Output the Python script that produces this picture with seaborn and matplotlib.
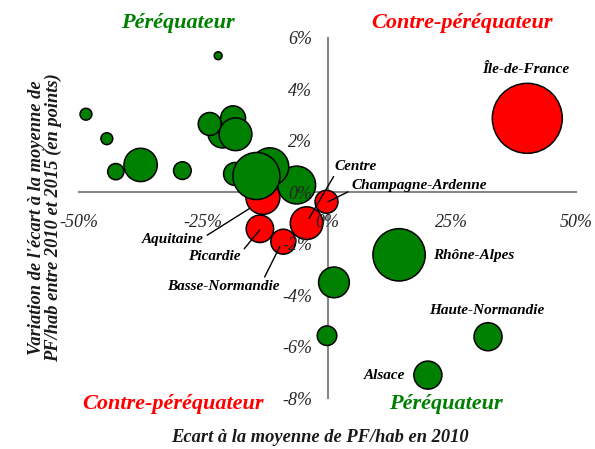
import matplotlib
matplotlib.use("Agg")
import matplotlib.pyplot as plt
import seaborn as sns
import pandas as pd
from matplotlib.ticker import FuncFormatter

# écart à la moyenne de PF/hab en 2010 (%)
ecart_2010 = [-13.0, -18.6, -6.2, -11.6, -14.3, -21.1, -19.0, -23.7, -18.5,
              -22.0, -48.6, -44.4, -42.6, -37.6, -29.2,
              14.4, 1.3, -0.1, 32.3, 20.2,
              40.2, -4.2, -0.2, -13.6, -8.9]
# variation de l'écart entre 2010 et 2015 (points)
variation = [-0.20, 0.71, 0.28, 0.99, 0.63, 2.29, 2.87, 2.65, 2.25,
             5.30, 3.03, 2.08, 0.80, 1.06, 0.84,
             -2.43, -3.50, -5.57, -5.61, -7.10,
             2.87, -1.20, -0.37, -1.42, -1.92]
# population (millions) -> taille des bulles
population = [2.80, 1.28, 3.48, 3.48, 5.38, 2.10, 1.51, 1.28, 2.60,
              0.15, 0.34, 0.34, 0.64, 2.70, 0.76,
              6.65, 2.30, 0.93, 1.91, 1.91,
              11.9, 2.60, 1.28, 1.83, 1.51]
groupe = ["Contre"] + ["Péréquateur"] * 19 + ["Contre"] * 5
regions = ["Aquitaine"] + [""] * 14 + ["Rhône-Alpes", "", "", "Haute-Normandie", "Alsace",
           "Île-de-France", "Centre", "Champagne-Ardenne", "Picardie", "Basse-Normandie"]

df = pd.DataFrame({"x": ecart_2010, "y": variation, "pop": population,
                   "groupe": groupe, "region": regions})

sns.set_style("white")
plt.rcParams["font.family"] = ["Liberation Serif", "DejaVu Serif"]

W, H = 595, 449
fig = plt.figure(figsize=(W / 100, H / 100), dpi=100)
ax = fig.add_axes([79 / W, 1 - 398.3 / H, (576 - 79) / W, (398.3 - 37.7) / H])

sns.scatterplot(data=df, x="x", y="y", hue="groupe", size="pop",
                palette={"Péréquateur": "#008000", "Contre": "#FF0000"},
                sizes=(0, 2540), size_norm=(0, 11.9), legend=False,
                edgecolor="black", linewidth=1.1, alpha=1, ax=ax, zorder=1)

ax.set_xlim(-50, 50)
ax.set_ylim(-8, 6)
ax.set_xticks([-50, -25, 0, 25, 50])
ax.set_yticks([-8, -6, -4, -2, 0, 2, 4, 6])
ax.xaxis.set_major_formatter(FuncFormatter(lambda v, p: f"{v:.0f}%"))
ax.yaxis.set_major_formatter(FuncFormatter(lambda v, p: f"{v:.0f}%"))
ax.set_xlabel("")
ax.set_ylabel("")
# tick labels drawn over the bubbles, axis lines under them
ax.xaxis.set_zorder(3)
ax.yaxis.set_zorder(3)

for side in ["top", "right"]:
    ax.spines[side].set_visible(False)
for side in ["left", "bottom"]:
    ax.spines[side].set_position(("data", 0))
    ax.spines[side].set_color("#868686")
    ax.spines[side].set_linewidth(1.5)
    ax.spines[side].set_zorder(0.5)

ax.tick_params(axis="both", direction="out", length=5, width=1.2, color="#868686",
               labelsize=13, labelcolor="#262626")
ax.tick_params(axis="x", pad=11)
ax.tick_params(axis="y", pad=6)
for lab in ax.get_xticklabels() + ax.get_yticklabels():
    lab.set_fontstyle("italic")

lab_kw = dict(fontsize=11, fontweight="bold", fontstyle="italic", color="black")
line_kw = dict(arrowstyle="-", color="black", lw=1, shrinkA=0, shrinkB=0)

ax.text(39.8, 4.75, "Île-de-France", ha="center", va="center", **lab_kw)
ax.text(21.2, -2.44, "Rhône-Alpes", ha="left", va="center", **lab_kw)
ax.text(32.0, -4.60, "Haute-Normandie", ha="center", va="center", **lab_kw)
ax.text(11.5, -7.13, "Alsace", ha="center", va="center", **lab_kw)

ax.annotate("Centre", xy=(-3.7, -1.01), xytext=(5.7, 0.99), ha="center", va="center",
            arrowprops=dict(relpos=(0.02, 0.0), **line_kw), **lab_kw)
ax.annotate("Champagne-Ardenne", xy=(0.12, -0.37), xytext=(18.4, 0.28), ha="center",
            va="center", arrowprops=dict(relpos=(0.0, 0.1), **line_kw), **lab_kw)
ax.annotate("Aquitaine", xy=(-15.6, -0.62), xytext=(-31.1, -1.85), ha="center",
            va="center", arrowprops=dict(relpos=(1.0, 0.7), **line_kw), **lab_kw)
ax.annotate("Picardie", xy=(-13.6, -1.46), xytext=(-22.7, -2.50), ha="center",
            va="center", arrowprops=dict(relpos=(1.0, 0.8), **line_kw), **lab_kw)
ax.annotate("Basse-Normandie", xy=(-9.6, -2.11), xytext=(-20.9, -3.67), ha="center",
            va="center", arrowprops=dict(relpos=(0.85, 1.0), **line_kw), **lab_kw)

quad_kw = dict(fontsize=16, fontweight="bold", fontstyle="italic", ha="center", va="center")
fig.text(177.5 / W, 1 - 22.7 / H, "Péréquateur", color="#008000", **quad_kw)
fig.text(461.7 / W, 1 - 23 / H, "Contre-péréquateur", color="#FF0000", **quad_kw)
fig.text(173.3 / W, 1 - 404 / H, "Contre-péréquateur", color="#FF0000", **quad_kw)
fig.text(445.8 / W, 1 - 404 / H, "Péréquateur", color="#008000", **quad_kw)

axis_kw = dict(fontsize=13.3, fontweight="bold", fontstyle="italic", color="#1a1a1a",
               ha="center", va="center")
fig.text(320 / W, 1 - 438 / H, "Ecart à la moyenne de PF/hab en 2010", **axis_kw)
fig.text(45 / W, 1 - 218 / H,
         "Variation de l'écart à la moyenne de\nPF/hab entre 2010 et 2015 (en points)",
         rotation=90, linespacing=0.95, **axis_kw)

fig.savefig("out.png", dpi=100)
